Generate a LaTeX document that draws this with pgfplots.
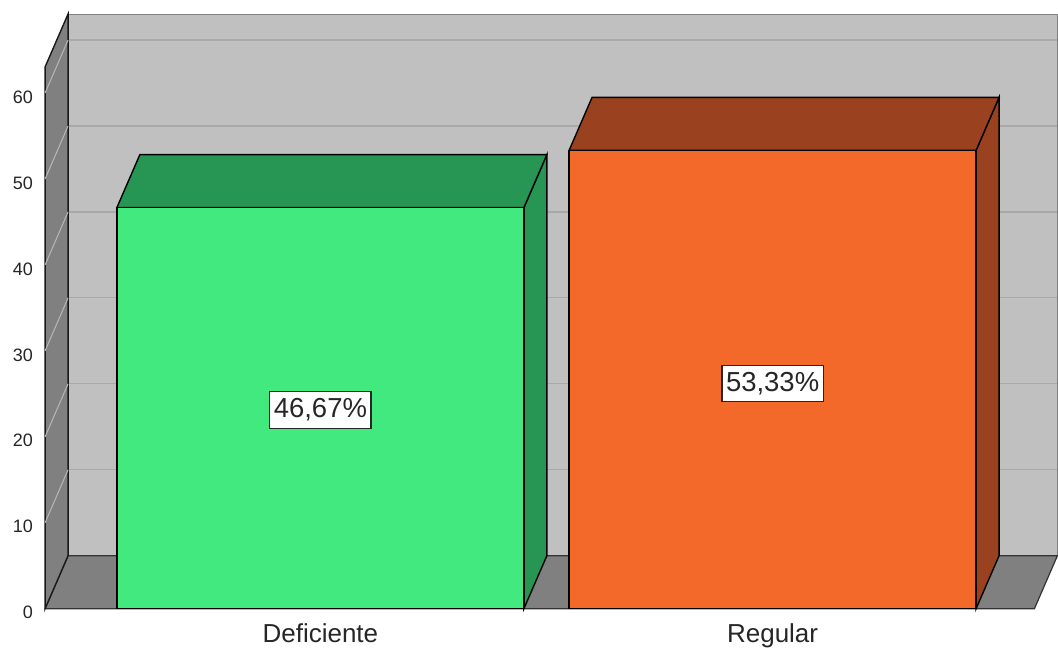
\documentclass[border=0pt]{standalone}
\usepackage{pgfplots}
\pgfplotsset{compat=1.18}
\usepackage{fontspec}
\setmainfont{Liberation Sans}
\definecolor{wallback}{HTML}{C0C0C0}
\definecolor{walldark}{HTML}{808080}
\definecolor{gridc}{HTML}{A9A9A9}
\definecolor{lightline}{HTML}{B8B8B8}
\definecolor{gfront}{HTML}{41E97F}
\definecolor{gdark}{HTML}{279553}
\definecolor{ofront}{HTML}{F2692A}
\definecolor{odark}{HTML}{9A4220}
\begin{document}
\begin{tikzpicture}
\begin{axis}[
  x=452.5pt, y=8.6pt,
  xmin=-0.7083, xmax=1.6298, ymin=-5.233, ymax=70.81,
  axis line style={draw=none},
  axis background/.style={fill=white},
  major tick length=0pt,
  ytick={0,10,...,60},
  /pgf/number format/assume math mode=true,
  yticklabel style={font=\fontsize{18}{20}\selectfont, anchor=east, inner sep=0pt, xshift=33pt, yshift=-4pt, text=black!85},
  xtick={0,1}, xticklabels={Deficiente,Regular},
  xticklabel style={font=\fontsize{26}{29}\selectfont, anchor=base, inner sep=0pt, yshift=11pt, text=black!85},
  clip=false,
]
% back wall
\addplot[draw=gray, fill=wallback, line width=1pt] coordinates {(-0.558,6.163) (1.6298,6.163) (1.6298,69.19) (-0.558,69.19)} -- cycle;
% grid lines on back wall
\addplot[gridc, line width=1.2pt] coordinates {(-0.558,16.163) (1.6298,16.163)};
\addplot[gridc, line width=1.2pt] coordinates {(-0.558,26.163) (1.6298,26.163)};
\addplot[gridc, line width=1.2pt] coordinates {(-0.558,36.163) (1.6298,36.163)};
\addplot[gridc, line width=1.2pt] coordinates {(-0.558,46.163) (1.6298,46.163)};
\addplot[gridc, line width=1.2pt] coordinates {(-0.558,56.163) (1.6298,56.163)};
\addplot[gridc, line width=1.2pt] coordinates {(-0.558,66.163) (1.6298,66.163)};
% floor
\addplot[draw=black!80, fill=walldark, line width=1.2pt] coordinates {(-0.6088,0) (1.579,0) (1.6298,6.163) (-0.558,6.163)} -- cycle;
% left wall
\addplot[draw=black!90, fill=walldark, line width=1.4pt] coordinates {(-0.6088,0) (-0.558,6.163) (-0.558,69.19) (-0.6088,63.03)} -- cycle;
\addplot[lightline, line width=1pt] coordinates {(-0.6088,10) (-0.558,16.163)};
\addplot[lightline, line width=1pt] coordinates {(-0.6088,20) (-0.558,26.163)};
\addplot[lightline, line width=1pt] coordinates {(-0.6088,30) (-0.558,36.163)};
\addplot[lightline, line width=1pt] coordinates {(-0.6088,40) (-0.558,46.163)};
\addplot[lightline, line width=1pt] coordinates {(-0.6088,50) (-0.558,56.163)};
\addplot[lightline, line width=1pt] coordinates {(-0.6088,60) (-0.558,66.163)};
% Deficiente bar
\addplot[draw=black, fill=gdark, line width=1.4pt] coordinates {(0.45,0) (0.5008,6.163) (0.5008,52.833) (0.45,46.67)} -- cycle;
\addplot[draw=black, fill=gdark, line width=1.4pt] coordinates {(-0.45,46.67) (0.45,46.67) (0.5008,52.833) (-0.3992,52.833)} -- cycle;
\addplot[ybar, bar width=0.9, bar shift=0pt, draw=black, fill=gfront, line width=1.4pt] coordinates {(0,46.67)};
% Regular bar
\addplot[draw=black, fill=odark, line width=1.4pt] coordinates {(1.45,0) (1.5008,6.163) (1.5008,59.493) (1.45,53.33)} -- cycle;
\addplot[draw=black, fill=odark, line width=1.4pt] coordinates {(0.55,53.33) (1.45,53.33) (1.5008,59.493) (0.6008,59.493)} -- cycle;
\addplot[ybar, bar width=0.9, bar shift=0pt, draw=black, fill=ofront, line width=1.4pt] coordinates {(1,53.33)};
% value labels
\node[fill=white, draw=black!85, line width=1.2pt, inner xsep=4pt, inner ysep=7pt, font=\fontsize{27.5}{30}\selectfont, text=black!85] at (axis cs:0,23.1) {46,67\%};
\node[fill=white, draw=black!85, line width=1.2pt, inner xsep=4pt, inner ysep=7pt, font=\fontsize{27.5}{30}\selectfont, text=black!85] at (axis cs:1,26.2) {53,33\%};
\end{axis}
\end{tikzpicture}
\end{document}
